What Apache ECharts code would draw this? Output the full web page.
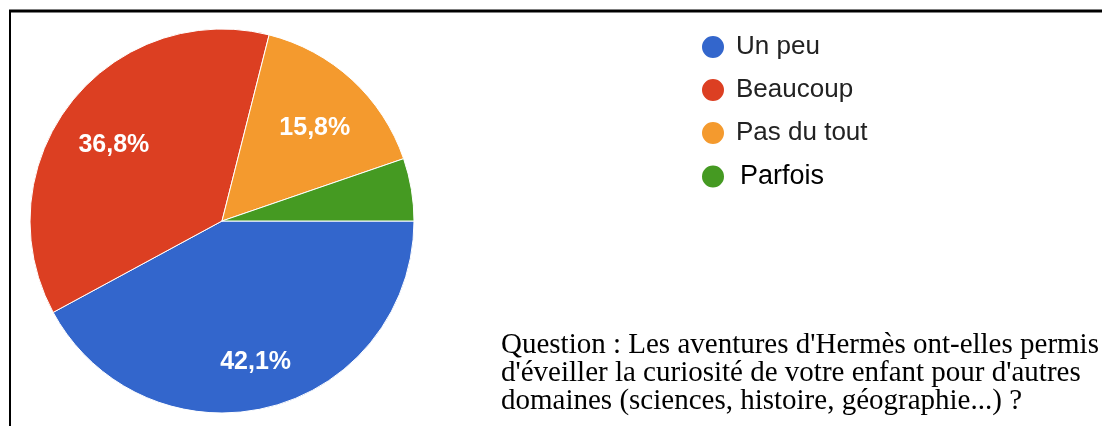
<!DOCTYPE html>
<html>
<head>
<meta charset="utf-8">
<script src="https://cdn.jsdelivr.net/npm/echarts@6/dist/echarts.min.js"></script>
<style>
  html, body { margin: 0; padding: 0; background: #fff; }
  #main { width: 1102px; height: 426px; }
</style>
</head>
<body>
<div id="main"></div>
<script>
// réponses (19 au total)
var categories = ["Un peu", "Beaucoup", "Pas du tout", "Parfois"];
var counts = [8, 7, 3, 1];
var colors = ["#3366cc", "#dc3f22", "#f49a2e", "#459a22"];
var question = "Question : Les aventures d'Hermès ont-elles permis\nd'éveiller la curiosité de votre enfant pour d'autres\ndomaines (sciences, histoire, géographie...) ?";

var pieData = categories.map(function (name, i) {
  return { name: name, value: counts[i] };
});

var myChart = echarts.init(document.getElementById("main"));

var option = {
  animation: false,
  color: colors,
  legend: {
    orient: "vertical",
    left: 695,
    top: 29,
    icon: "circle",
    itemWidth: 24,
    itemHeight: 24,
    itemGap: 17,
    selectedMode: false,
    textStyle: { fontFamily: "Liberation Sans, Arial", fontSize: 26, color: "#222", padding: [0, 0, 0, 6] },
    data: [
      categories[0],
      categories[1],
      categories[2],
      { name: categories[3], textStyle: { fontSize: 27, color: "#000", padding: [2, 0, 0, 10] } }
    ]
  },
  graphic: [
    // cadre
    { type: "line", shape: { x1: 9, y1: 11, x2: 1102, y2: 11 }, style: { stroke: "#000", lineWidth: 3 } },
    { type: "line", shape: { x1: 10, y1: 10, x2: 10, y2: 426 }, style: { stroke: "#000", lineWidth: 2 } },
    {
      type: "text",
      left: 501,
      top: 331,
      style: {
        text: question,
        fontFamily: "Liberation Serif, Times New Roman",
        fontSize: 29,
        lineHeight: 28,
        fill: "#000"
      }
    }
  ],
  series: [
    {
      type: "pie",
      center: [222, 221],
      radius: [0, 192],
      startAngle: 0,
      clockwise: true,
      silent: true,
      label: { show: false },
      labelLine: { show: false },
      itemStyle: { borderColor: "#fff", borderWidth: 1 },
      data: pieData
    },
    {
      // anneau transparent pour placer les étiquettes plus loin du centre
      type: "pie",
      center: [222, 221],
      radius: [76, 192],
      startAngle: 0,
      clockwise: true,
      silent: true,
      minShowLabelAngle: 30,
      itemStyle: { color: "rgba(0,0,0,0)" },
      label: {
        show: true,
        position: "inside",
        color: "#fff",
        fontFamily: "Liberation Sans, Arial",
        fontWeight: "bold",
        fontSize: 25,
        formatter: function (p) {
          return p.percent.toFixed(1).replace(".", ",") + "%";
        }
      },
      labelLayout: { dy: 8 },
      labelLine: { show: false },
      data: pieData
    }
  ]
};

myChart.setOption(option);
</script>
</body>
</html>
